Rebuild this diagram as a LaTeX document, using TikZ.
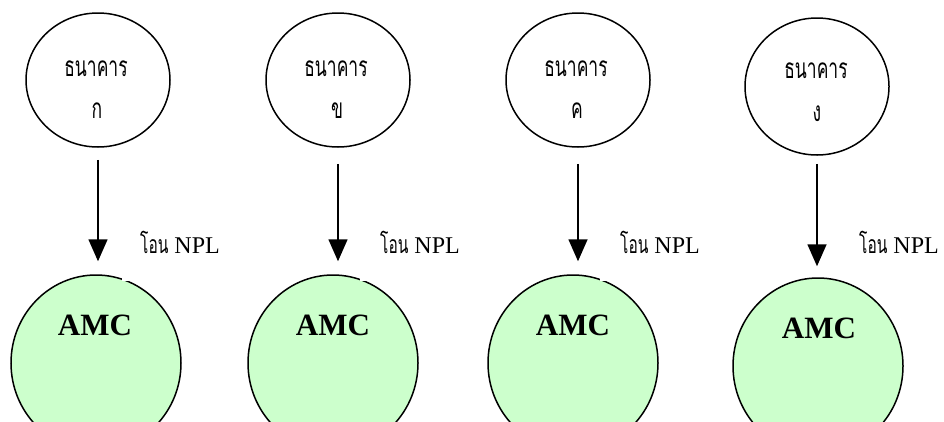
\documentclass[tikz,border=0pt]{standalone}
\usepackage{fontspec}
\setmainfont{Liberation Serif}
\newfontfamily\thai[Script=Thai]{Loma}
\usetikzlibrary{shapes.geometric,arrows.meta}
\definecolor{amcgreen}{HTML}{CCFFCC}
\newcommand{\talltxt}[1]{\scalebox{1}[1.6]{#1}}
\tikzset{
  bank/.style={ellipse,draw,line width=1.5pt,minimum width=144pt,minimum height=134pt,inner sep=0pt},
  amc/.style={ellipse,draw,line width=1.5pt,fill=amcgreen,minimum width=170pt,minimum height=176pt,inner sep=0pt},
  banktxt/.style={anchor=base,inner sep=0pt,font=\thai\fontsize{17.5}{20}\selectfont},
  amctxt/.style={anchor=base,inner sep=0pt,font=\bfseries\fontsize{31}{36}\selectfont},
  npl/.style={anchor=base west,inner sep=0pt,font=\fontsize{24}{26}\selectfont},
  flow/.style={-{Triangle[length=22pt,width=19pt]},line width=1.6pt},
  notch/.style={fill=white}
}
\begin{document}
\begin{tikzpicture}[x=1pt,y=-1pt]
\useasboundingbox (0,0) rectangle (944,421);
% column 1
\node[bank] (a1) at (98,80) {};
\node[banktxt] (a1t) at (96,76) {\talltxt{ธนาคาร}};
\node[banktxt] (a1u) at (97,118) {\talltxt{ก}};
\node[amc] (m1) at (96,363) {};
\fill[notch] (122,270) rectangle (132,281);
\node[amctxt] (m1t) at (95,335) {AMC};
\draw[flow,shorten <=12pt,shorten >=13pt] (a1.south) -- (a1.south |- m1.north);
\node[npl] (l1) at (140,253) {{\thai\fontsize{15.5}{20}\selectfont\talltxt{โอน}} NPL};
% column 2
\node[bank] (a2) at (338,80) {};
\node[banktxt] (a2t) at (336,76) {\talltxt{ธนาคาร}};
\node[banktxt] (a2u) at (337,118) {\talltxt{ข}};
\node[amc] (m2) at (333,363) {};
\fill[notch] (360,270) rectangle (370,281);
\node[amctxt] (m2t) at (333,335) {AMC};
\draw[flow,shorten <=16pt,shorten >=13pt] (a2.south) -- (a2.south |- m2.north);
\node[npl] (l2) at (380,253) {{\thai\fontsize{15.5}{20}\selectfont\talltxt{โอน}} NPL};
% column 3
\node[bank] (a3) at (578,80) {};
\node[banktxt] (a3t) at (576,76) {\talltxt{ธนาคาร}};
\node[banktxt] (a3u) at (577,118) {\talltxt{ค}};
\node[amc] (m3) at (573,363) {};
\fill[notch] (600,270) rectangle (610,281);
\node[amctxt] (m3t) at (573,335) {AMC};
\draw[flow,shorten <=16pt,shorten >=13pt] (a3.south) -- (a3.south |- m3.north);
\node[npl] (l3) at (620,253) {{\thai\fontsize{15.5}{20}\selectfont\talltxt{โอน}} NPL};
% column 4
\node[bank,minimum height=137pt] (a4) at (817,86.5) {};
\node[banktxt] (a4t) at (816,78) {\talltxt{ธนาคาร}};
\node[banktxt] (a4u) at (817,121) {\talltxt{ง}};
\node[amc] (m4) at (818,366) {};
\node[amctxt] (m4t) at (819,338) {AMC};
\draw[flow,shorten <=8pt,shorten >=11pt] (a4.south) -- (a4.south |- m4.north);
\node[npl] (l4) at (859,253) {{\thai\fontsize{15.5}{20}\selectfont\talltxt{โอน}} NPL};
\end{tikzpicture}
\end{document}
